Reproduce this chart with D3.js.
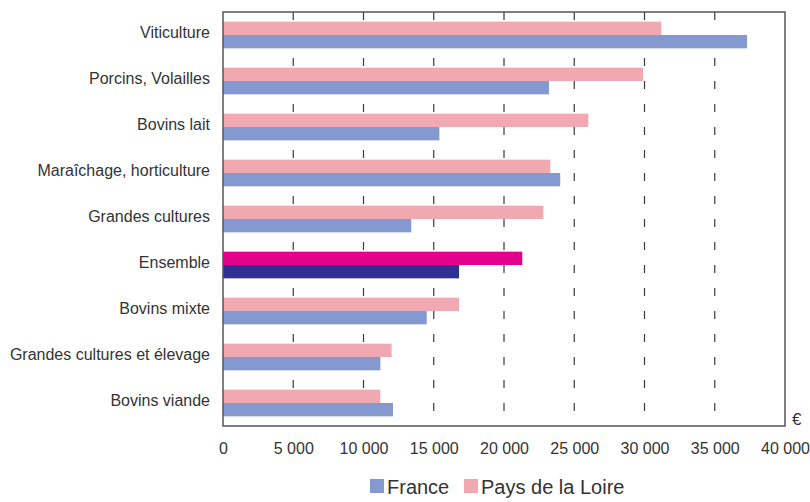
<!DOCTYPE html>
<html>
<head>
<meta charset="utf-8">
<script src="https://cdn.jsdelivr.net/npm/d3@7"></script>
<style>
  body { margin: 0; background: #fff; }
  svg { font-family: "Liberation Sans", Arial, sans-serif; }
</style>
</head>
<body>
<div id="chart"></div>
<script>
// categories, top to bottom
const categories = [
    'Viticulture', 'Porcins, Volailles', 'Bovins lait', 'Maraîchage, horticulture',
    'Grandes cultures', 'Ensemble', 'Bovins mixte', 'Grandes cultures et élevage', 'Bovins viande'
];
const paysDeLaLoire = [31200, 29900, 26000, 23300, 22800, 21300, 16800, 12000, 11200];
const france = [37300, 23200, 15400, 24000, 13400, 16800, 14500, 11200, 12100];
const xTicks = [0, 5000, 10000, 15000, 20000, 25000, 30000, 35000, 40000];
const seriesNames = ['Pays de la Loire', 'France'];

const width = 810, height = 502;
const margin = { top: 12, right: 25, bottom: 76, left: 223 };
const colors = { 'Pays de la Loire': '#f0a9b0', 'France': '#8399cf' };
const highlight = { 'Pays de la Loire': '#e3008b', 'France': '#2e3192' };

const svg = d3.select('#chart').append('svg')
    .attr('width', width)
    .attr('height', height);

const x = d3.scaleLinear()
    .domain([0, 40000])
    .range([margin.left, width - margin.right]);

const y = d3.scaleBand()
    .domain(categories)
    .range([margin.top, height - margin.bottom])
    .paddingInner(0.42)
    .paddingOuter(0.21);

const ySub = d3.scaleBand()
    .domain(seriesNames)
    .range([0, y.bandwidth()]);

/* gridlines */
svg.append('g')
    .selectAll('line')
    .data(xTicks.slice(1, -1))
    .enter().append('line')
    .attr('x1', d => x(d)).attr('x2', d => x(d))
    .attr('y1', margin.top).attr('y2', height - margin.bottom)
    .style('stroke', '#3a3a3a')
    .style('stroke-width', 1.2)
    .style('stroke-dasharray', '8,15');

/* bars */
const rows = categories.map((c, i) => ({ cat: c, values: [
    { s: 'Pays de la Loire', v: paysDeLaLoire[i] },
    { s: 'France', v: france[i] }
]}));

const groups = svg.append('g').selectAll('g')
    .data(rows)
    .enter().append('g')
    .attr('transform', d => `translate(0,${y(d.cat)})`);

groups.selectAll('rect')
    .data(d => d.values.map(e => ({ ...e, cat: d.cat })))
    .enter().append('rect')
    .attr('x', x(0))
    .attr('y', d => ySub(d.s))
    .attr('width', d => x(d.v) - x(0))
    .attr('height', ySub.bandwidth())
    .style('fill', d => d.cat === 'Ensemble' ? highlight[d.s] : colors[d.s]);

/* frame */
svg.append('rect')
    .attr('x', x(0))
    .attr('y', margin.top)
    .attr('width', x(40000) - x(0))
    .attr('height', height - margin.bottom - margin.top)
    .style('fill', 'none')
    .style('stroke', '#555')
    .style('stroke-width', 1.5);

/* axes */
const xAxis = d3.axisBottom(x)
    .tickValues(xTicks)
    .tickSize(0)
    .tickPadding(17)
    .tickFormat(d => d3.format(',')(d).replace(/,/g, ' '));

svg.append('g')
    .attr('transform', `translate(0,${height - margin.bottom})`)
    .call(xAxis)
    .call(g => g.select('.domain').remove())
    .call(g => g.selectAll('text').style('font-size', '16px').style('fill', '#333')
        .style('font-family', '"Liberation Sans", Arial, sans-serif'));

const yAxis = d3.axisLeft(y).tickSize(0).tickPadding(13);
svg.append('g')
    .attr('transform', `translate(${margin.left},0)`)
    .call(yAxis)
    .call(g => g.select('.domain').remove())
    .call(g => g.selectAll('text').style('font-size', '16px').style('fill', '#333')
        .attr('dy', '0.2em')
        .style('font-family', '"Liberation Sans", Arial, sans-serif'));

svg.append('text')
    .attr('x', x(40000) + 7)
    .attr('y', height - margin.bottom - 1)
    .style('font-size', '17px')
    .style('fill', '#333')
    .text('€');

/* legend */
const legendItems = [
    { s: 'France', x: 370 },
    { s: 'Pays de la Loire', x: 464 }
];
const legend = svg.append('g').attr('transform', 'translate(0,479)');
legendItems.forEach(item => {
    legend.append('rect')
        .attr('x', item.x).attr('y', 0)
        .attr('width', 14).attr('height', 14)
        .style('fill', colors[item.s]);
    legend.append('text')
        .attr('x', item.x + 17).attr('y', 15)
        .style('font-size', '20px')
        .style('fill', '#333')
        .text(item.s);
});
</script>
</body>
</html>
